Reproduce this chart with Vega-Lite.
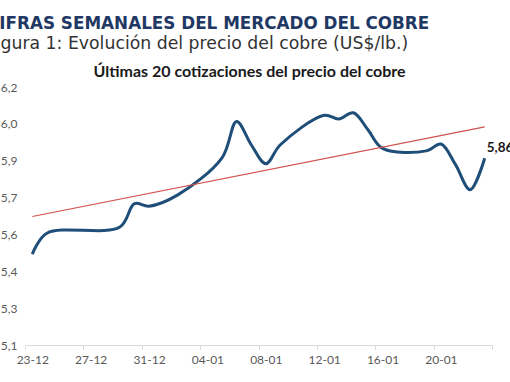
{
  "$schema": "https://vega.github.io/schema/vega-lite/v6.json",
  "autosize": "none",
  "width": 467,
  "height": 258,
  "padding": {"left": 25, "top": 87, "right": 18, "bottom": 37},
  "background": "white",
  "config": {
    "locale": {"number": {"decimal": ",", "thousands": ".", "grouping": [3], "currency": ["US$", ""]}},
    "view": {"stroke": null}
  },
  "title": {
    "text": "CIFRAS SEMANALES DEL MERCADO DEL COBRE",
    "subtitle": "Figura 1: Evolución del precio del cobre (US$/lb.)",
    "anchor": "start",
    "frame": "group",
    "dx": -38,
    "font": "DejaVu Sans",
    "fontSize": 16.8,
    "fontWeight": "bold",
    "color": "#1f3864",
    "subtitleFont": "DejaVu Sans",
    "subtitleFontSize": 17.3,
    "subtitleColor": "#333333",
    "subtitlePadding": 2,
    "offset": 11
  },
  "datasets": {
    "precios": [
      {"fecha": "2025-12-23", "precio": 5.47},
      {"fecha": "2025-12-24", "precio": 5.555},
      {"fecha": "2025-12-29", "precio": 5.58},
      {"fecha": "2025-12-30", "precio": 5.675},
      {"fecha": "2025-12-31", "precio": 5.665},
      {"fecha": "2026-01-02", "precio": 5.712},
      {"fecha": "2026-01-05", "precio": 5.862},
      {"fecha": "2026-01-06", "precio": 6.01},
      {"fecha": "2026-01-07", "precio": 5.915},
      {"fecha": "2026-01-08", "precio": 5.838},
      {"fecha": "2026-01-09", "precio": 5.915},
      {"fecha": "2026-01-12", "precio": 6.035},
      {"fecha": "2026-01-13", "precio": 6.02},
      {"fecha": "2026-01-14", "precio": 6.045},
      {"fecha": "2026-01-15", "precio": 5.976},
      {"fecha": "2026-01-16", "precio": 5.9},
      {"fecha": "2026-01-19", "precio": 5.89},
      {"fecha": "2026-01-20", "precio": 5.918},
      {"fecha": "2026-01-21", "precio": 5.834},
      {"fecha": "2026-01-22", "precio": 5.732},
      {"fecha": "2026-01-23", "precio": 5.86}
    ],
    "tendencia": [
      {"fecha": "2025-12-23", "tendencia": 5.623},
      {"fecha": "2026-01-23", "tendencia": 5.988}
    ]
  },
  "layer": [
    {
      "data": {"name": "precios"},
      "mark": {"type": "line", "interpolate": "catmull-rom", "color": "#1f4e79", "strokeWidth": 3},
      "encoding": {
        "x": {
          "field": "fecha", "type": "temporal",
          "scale": {"type": "utc", "domain": [{"year": 2025, "month": 12, "date": 22, "hours": 12, "utc": true}, {"year": 2026, "month": 1, "date": 23, "hours": 12, "utc": true}]},
          "axis": {
            "title": null,
            "values": [
              {"year": 2025, "month": 12, "date": 22, "hours": 12, "utc": true},
              {"year": 2025, "month": 12, "date": 26, "hours": 12, "utc": true},
              {"year": 2025, "month": 12, "date": 30, "hours": 12, "utc": true},
              {"year": 2026, "month": 1, "date": 3, "hours": 12, "utc": true},
              {"year": 2026, "month": 1, "date": 7, "hours": 12, "utc": true},
              {"year": 2026, "month": 1, "date": 11, "hours": 12, "utc": true},
              {"year": 2026, "month": 1, "date": 15, "hours": 12, "utc": true},
              {"year": 2026, "month": 1, "date": 19, "hours": 12, "utc": true},
              {"year": 2026, "month": 1, "date": 23, "hours": 12, "utc": true}
            ],
            "labelExpr": "utcdate(datum.value) == 23 && utcmonth(datum.value) == 0 ? '' : utcFormat(datum.value + 43200000, '%d-%m')",
            "labelOffset": 7.3,
            "labelFlush": false,
            "labelOverlap": false,
            "grid": false,
            "domainColor": "#d9d9d9",
            "tickColor": "#d9d9d9",
            "tickSize": 4,
            "labelPadding": 5,
            "labelFont": "Lato",
            "labelFontSize": 12,
            "labelColor": "#595959"
          }
        },
        "y": {
          "field": "precio", "type": "quantitative",
          "scale": {"domain": [5.1, 6.15], "nice": false, "zero": false},
          "axis": {
            "title": null,
            "values": [5.1, 5.25, 5.4, 5.55, 5.7, 5.85, 6.0, 6.15],
            "labelExpr": "replace(format(round(datum.value * 10 + 0.000001) / 10, '.1f'), '.', ',')",
            "domain": false, "ticks": false, "grid": false,
            "labelPadding": 8,
            "labelFont": "Lato", "labelFontSize": 12, "labelColor": "#595959"
          }
        }
      }
    },
    {
      "data": {"name": "tendencia"},
      "mark": {"type": "line", "color": "#d0504d", "strokeWidth": 1.2},
      "encoding": {
        "x": {
          "field": "fecha", "type": "temporal",
          "scale": {"type": "utc", "domain": [{"year": 2025, "month": 12, "date": 22, "hours": 12, "utc": true}, {"year": 2026, "month": 1, "date": 23, "hours": 12, "utc": true}]},
          "axis": {
            "orient": "top",
            "title": "Últimas 20 cotizaciones del precio del cobre",
            "labels": false, "ticks": false, "domain": false, "grid": false,
            "titleFont": "Lato", "titleFontSize": 16, "titleFontWeight": "bold", "titleColor": "#1a1a1a",
            "titlePadding": 8,
            "titleX": 224
          }
        },
        "y": {
          "field": "tendencia", "type": "quantitative",
          "scale": {"domain": [5.1, 6.15], "nice": false, "zero": false},
          "axis": {
            "title": null,
            "values": [5.1, 5.25, 5.4, 5.55, 5.7, 5.85, 6.0, 6.15],
            "labelExpr": "replace(format(round(datum.value * 10 + 0.000001) / 10, '.1f'), '.', ',')",
            "domain": false, "ticks": false, "grid": false,
            "labelPadding": 8,
            "labelFont": "Lato", "labelFontSize": 12, "labelColor": "#595959"
          }
        }
      }
    },
    {
      "data": {"name": "precios"},
      "transform": [{"filter": {"field": "fecha", "equal": {"year": 2026, "month": 1, "date": 23, "utc": true}}}],
      "mark": {"type": "text", "align": "left", "baseline": "middle", "dx": 2, "dy": -10, "font": "Lato", "fontSize": 13.5, "fontWeight": "bold", "color": "#1a1a1a"},
      "encoding": {
        "x": {
          "field": "fecha", "type": "temporal",
          "scale": {"type": "utc", "domain": [{"year": 2025, "month": 12, "date": 22, "hours": 12, "utc": true}, {"year": 2026, "month": 1, "date": 23, "hours": 12, "utc": true}]},
          "axis": null
        },
        "y": {
          "field": "precio", "type": "quantitative",
          "scale": {"domain": [5.1, 6.15], "nice": false, "zero": false},
          "axis": {
            "title": null,
            "values": [5.1, 5.25, 5.4, 5.55, 5.7, 5.85, 6.0, 6.15],
            "labelExpr": "replace(format(round(datum.value * 10 + 0.000001) / 10, '.1f'), '.', ',')",
            "domain": false, "ticks": false, "grid": false,
            "labelPadding": 8,
            "labelFont": "Lato", "labelFontSize": 12, "labelColor": "#595959"
          }
        },
        "text": {"field": "precio", "type": "quantitative", "format": ".2f"}
      }
    }
  ],
  "resolve": {"scale": {"x": "independent"}, "axis": {"x": "independent"}}
}
